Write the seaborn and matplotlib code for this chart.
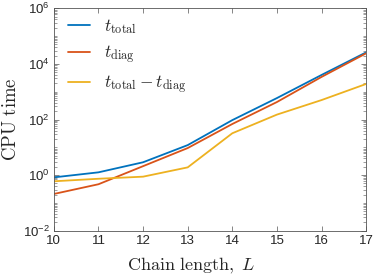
import numpy as np
import pandas as pd
import matplotlib
matplotlib.use("Agg")
import matplotlib.pyplot as plt
import seaborn as sns
from matplotlib.ticker import LogLocator, FixedLocator, NullFormatter

chain_length = [10, 11, 12, 13, 14, 15, 16, 17]
t_total = [0.83, 1.26, 2.9, 12, 95, 590, 4000, 26000]
t_diag = [0.21, 0.47, 2.1, 9.4, 69, 425, 3400, 24000]
t_diff = [0.6, 0.74, 0.88, 1.9, 32, 150, 500, 1900]
series_labels = [r"$t_{\rm total}$", r"$t_{\rm diag}$", r"$t_{\rm total}-t_{\rm diag}$"]
colors = ["#0072BD", "#D95319", "#EDB120"]

df = pd.DataFrame({
    "L": chain_length * 3,
    "t": t_total + t_diag + t_diff,
    "series": [series_labels[0]] * 8 + [series_labels[1]] * 8 + [series_labels[2]] * 8,
})

sns.set_theme(style="white")
plt.rcParams["font.family"] = ["Liberation Sans", "DejaVu Sans"]
plt.rcParams["mathtext.fontset"] = "cm"

fig = plt.figure(figsize=(3.74, 2.76), dpi=100)
ax = fig.add_axes([0.144, 0.164, 0.835, 0.806])

sns.lineplot(data=df, x="L", y="t", hue="series", palette=colors,
             linewidth=1.3, ax=ax, legend=True)

ax.set_yscale("log")
ax.set_xlim(10, 17)
ax.set_ylim(1e-2, 1e6)
ax.xaxis.set_major_locator(FixedLocator(chain_length))
ax.yaxis.set_major_locator(FixedLocator([1e-2, 1e0, 1e2, 1e4, 1e6]))
ax.yaxis.set_minor_locator(LogLocator(base=10, subs=np.arange(1, 10), numticks=100))
ax.yaxis.set_minor_formatter(NullFormatter())

edge = "#555555"
for s in ax.spines.values():
    s.set_color(edge)
    s.set_linewidth(0.6)
ax.tick_params(which="both", direction="in", top=True, right=True,
               left=True, bottom=True, color=edge, labelcolor="#262626")
ax.tick_params(which="major", length=3.5, width=0.5, labelsize=9.5, pad=3)
ax.tick_params(which="minor", length=2, width=0.4)

ax.set_xlabel(r"$\mathrm{Chain\ length,}\ L$", fontsize=13, color="#262626")
ax.set_ylabel(r"$\mathrm{CPU\ time}$", fontsize=13.5, color="#262626", labelpad=2)
ax.xaxis.set_label_coords(0.44, -0.115)

leg = ax.legend(loc="upper left", frameon=False, fontsize=12.5,
                handlelength=1.25, handletextpad=0.8, labelspacing=0.4,
                borderaxespad=0.0, bbox_to_anchor=(0.023, 0.99))
for line in leg.get_lines():
    line.set_linewidth(1.3)

fig.savefig("out.png", dpi=100)
